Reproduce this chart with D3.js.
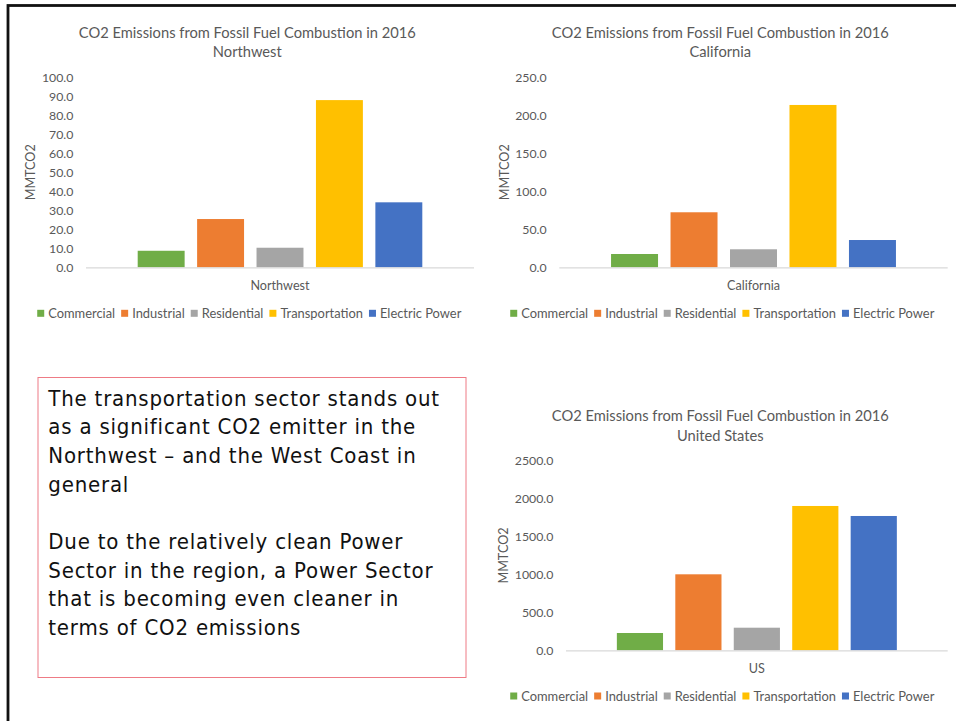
<!DOCTYPE html>
<html>
<head>
<meta charset="utf-8">
<script src="https://cdn.jsdelivr.net/npm/d3@7"></script>
<style>
  html, body { margin: 0; padding: 0; background: #fff; }
  svg { display: block; }
</style>
</head>
<body>
<svg id="slide" width="956" height="721"></svg>
<script>
// ---------------- DATA ----------------
const sectors = ["Commercial", "Industrial", "Residential", "Transportation", "Electric Power"];
const sectorColors = ["#70AD47", "#ED7D31", "#A5A5A5", "#FFC000", "#4472C4"];

const titleLine1 = "CO2 Emissions from Fossil Fuel Combustion in 2016";
const yAxisLabel = "MMTCO2";

const northwestValues = [8.7, 25.4, 10.3, 88.0, 34.2];
const northwestTicks = [0, 10, 20, 30, 40, 50, 60, 70, 80, 90, 100];

const californiaValues = [17.5, 72.4, 23.7, 213.6, 35.9];
const californiaTicks = [0, 50, 100, 150, 200, 250];

const usValues = [228, 1002, 298, 1903, 1771];
const usTicks = [0, 500, 1000, 1500, 2000, 2500];

const noteParagraph1 = [
  "The transportation sector stands out",
  "as a significant CO2 emitter in the",
  "Northwest \u2013 and the West Coast in",
  "general"
];
const noteParagraph2 = [
  "Due to the relatively clean Power",
  "Sector in the region, a Power Sector",
  "that is becoming even cleaner in",
  "terms of CO2 emissions"
];

// ---------------- LAYOUT ----------------
const svg = d3.select("#slide");
const chartFont = "Lato, 'Open Sans', sans-serif";
const textGray = "#595959";

// slide border
svg.append("rect")
  .attr("x", 8).attr("y", 5.5)
  .attr("width", 1000).attr("height", 800)
  .attr("fill", "none").attr("stroke", "#111").attr("stroke-width", 2.8);

const charts = [
  { region: "Northwest", category: "Northwest", values: northwestValues, ticks: northwestTicks,
    left: 86, right: 474, top: 77.3, bottom: 267.3, titleX: 247.3, titleY: 37.8,
    yLabelX: 30.7, legendY: 313.3 },
  { region: "California", category: "California", values: californiaValues, ticks: californiaTicks,
    left: 559.3, right: 947.7, top: 77.3, bottom: 267.3, titleX: 720.3, titleY: 37.8,
    yLabelX: 504.3, legendY: 313.3 },
  { region: "United States", category: "US", values: usValues, ticks: usTicks,
    left: 566, right: 947.7, top: 460.7, bottom: 650.3, titleX: 720.3, titleY: 421.1,
    yLabelX: 503.3, legendY: 696 }
];

charts.forEach(c => {
  const g = svg.append("g");
  const tickMax = c.ticks[c.ticks.length - 1];
  const y = d3.scaleLinear().domain([0, tickMax]).range([c.bottom, c.top]);
  const x = d3.scaleBand().domain(sectors).range([c.left, c.right])
    .paddingInner(0.21).paddingOuter(0.87);

  // title
  const t = g.append("text")
    .attr("x", c.titleX).attr("y", c.titleY)
    .attr("text-anchor", "middle")
    .attr("font-family", chartFont).attr("font-size", 14.7)
    .attr("fill", textGray);
  t.append("tspan").attr("x", c.titleX).text(titleLine1);
  t.append("tspan").attr("x", c.titleX).attr("dy", 19.6).text(c.region);

  // y axis (labels only)
  const yAxis = d3.axisLeft(y).tickValues(c.ticks).tickSize(0).tickPadding(12.7)
    .tickFormat(d3.format(".1f"));
  const ya = g.append("g").attr("transform", `translate(${c.left},0)`).call(yAxis);
  ya.select(".domain").remove();
  ya.selectAll("text")
    .attr("font-family", chartFont).attr("font-size", 12.3).attr("fill", textGray);

  // bars
  g.selectAll("rect.bar").data(c.values).join("rect")
    .attr("class", "bar")
    .attr("x", (d, i) => x(sectors[i]))
    .attr("width", x.bandwidth())
    .attr("y", d => y(d))
    .attr("height", d => y(0) - y(d))
    .attr("fill", (d, i) => sectorColors[i]);

  // baseline
  g.append("line")
    .attr("x1", c.left).attr("x2", c.right)
    .attr("y1", y(0) + 0.5).attr("y2", y(0) + 0.5)
    .attr("stroke", "#d9d9d9").attr("stroke-width", 1.2);

  // category label
  g.append("text")
    .attr("x", (c.left + c.right) / 2).attr("y", y(0) + 18.4)
    .attr("dy", "0.35em")
    .attr("text-anchor", "middle")
    .attr("font-family", chartFont).attr("font-size", 12.6).attr("fill", textGray)
    .text(c.category);

  // y axis title
  g.append("text")
    .attr("transform", `translate(${c.yLabelX},${(c.top + c.bottom) / 2}) rotate(-90)`)
    .attr("dy", "0.35em")
    .attr("text-anchor", "middle")
    .attr("font-family", chartFont).attr("font-size", 12.6).attr("fill", textGray)
    .text(yAxisLabel);

  // legend
  const lg = g.append("g");
  const items = lg.selectAll("g").data(sectors).join("g");
  items.append("rect").attr("width", 7).attr("height", 7)
    .attr("y", -3.5)
    .attr("fill", (d, i) => sectorColors[i]);
  items.append("text").attr("x", 11).attr("dy", "0.35em")
    .attr("font-family", chartFont).attr("font-size", 12.9).attr("fill", textGray)
    .text(d => d);
  let cursor = 0;
  const gap = 6;
  items.each(function() {
    const w = d3.select(this).select("text").node().getComputedTextLength();
    d3.select(this).attr("transform", `translate(${cursor},0)`);
    cursor += 11 + w + gap;
  });
  const totalW = cursor - gap;
  lg.attr("transform", `translate(${c.titleX + 2 - totalW / 2},${c.legendY})`);
});

// ---------------- NOTE BOX ----------------
svg.append("rect")
  .attr("x", 38).attr("y", 377.5)
  .attr("width", 428).attr("height", 300)
  .attr("fill", "none").attr("stroke", "#ee7b85").attr("stroke-width", 1);

const noteFont = "'DejaVu Sans Condensed', 'DejaVu Sans', sans-serif";
const note = svg.append("text")
  .attr("font-family", noteFont).attr("font-size", 22)
  .attr("font-stretch", "condensed")
  .attr("letter-spacing", 0.8)
  .attr("fill", "#111");
const lineH = 28.7;
noteParagraph1.forEach((line, i) => {
  note.append("tspan").attr("x", 48.3).attr("y", 405.5 + i * lineH).text(line);
});
noteParagraph2.forEach((line, i) => {
  note.append("tspan").attr("x", 48.3).attr("y", 405.5 + (i + 5) * lineH).text(line);
});
</script>
</body>
</html>
